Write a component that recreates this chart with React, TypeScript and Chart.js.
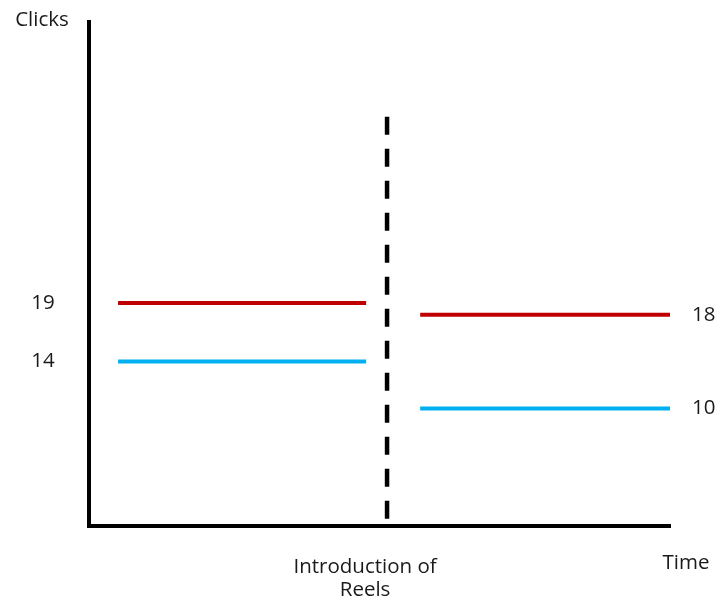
import React, { useEffect, useRef } from "react";
import { Chart, registerables } from "chart.js";

Chart.register(...registerables);

// ---- data ----
const periods = ["Before Reels", "After Reels"];
const periodStart = [5, 57];
const periodEnd = [47.7, 100];
const redClicks = [19, 18];
const blueClicks = [14, 10];
const introTime = [51.3];
const introSpan = [34.9, 0.4];
const yTitle = "Clicks";
const xTitle = "Time";
const introLabel = ["Introduction of", "Reels"];

const RED = "#C00000";
const BLUE = "#00B0F0";
const FONT = "'Open Sans', sans-serif";

const labelPlugin = {
  id: "labels",
  afterDraw(chart: any) {
    const { ctx, chartArea, scales } = chart;
    const y = scales.y;
    const x = scales.x;
    ctx.save();
    ctx.fillStyle = "#1a1a1a";
    ctx.font = `20.5px ${FONT}`;
    ctx.textBaseline = "middle";
    // value labels
    ctx.textAlign = "center";
    [redClicks[0], blueClicks[0]].forEach((v) => {
      ctx.fillText(String(v), chartArea.left - 46, y.getPixelForValue(v));
    });
    ctx.textAlign = "left";
    [redClicks[1], blueClicks[1]].forEach((v) => {
      ctx.fillText(String(v), chartArea.right + 22, y.getPixelForValue(v));
    });
    // axis titles
    ctx.textAlign = "center";
    ctx.fillText(yTitle, chartArea.left - 47, chartArea.top - 2);
    ctx.fillText(xTitle, chartArea.right + 16, chartArea.bottom + 38);
    const ix = x.getPixelForValue(introTime[0]) - 22;
    introLabel.forEach((t, i) => {
      ctx.fillText(t, ix, chartArea.bottom + 42 + i * 23);
    });
    ctx.restore();
  },
};

export default function App() {
  const ref = useRef<HTMLCanvasElement | null>(null);
  useEffect(() => {
    if (!ref.current) return;
    const seg = (vals: number[], color: string) =>
      periods.map((p, i) => ({
        label: `${p} ${color}`,
        data: [
          { x: periodStart[i], y: vals[i] },
          { x: periodEnd[i], y: vals[i] },
        ],
        borderColor: color,
        borderWidth: 4,
        pointRadius: 0,
        showLine: true,
        borderCapStyle: "butt" as const,
      }));
    const chart = new Chart(ref.current, {
      type: "scatter",
      data: {
        datasets: [
          ...seg(redClicks, RED),
          ...seg(blueClicks, BLUE),
          {
            label: "Introduction of Reels",
            data: introSpan.map((v) => ({ x: introTime[0], y: v })),
            borderColor: "#000",
            borderWidth: 4.5,
            borderDash: [18, 14],
            pointRadius: 0,
            showLine: true,
            borderCapStyle: "butt" as const,
          },
        ],
      },
      options: {
        responsive: true,
        maintainAspectRatio: false,
        animation: false,
        layout: { padding: { left: 89, top: 22, right: 48, bottom: 75.5 } },
        plugins: { legend: { display: false }, tooltip: { enabled: false } },
        scales: {
          x: {
            type: "linear",
            min: 0,
            max: 100,
            ticks: { display: false },
            grid: { display: false, drawTicks: false },
            border: { display: true, color: "#000", width: 4 },
          },
          y: {
            type: "linear",
            min: 0,
            max: 43,
            ticks: { display: false },
            grid: { display: false, drawTicks: false },
            border: { display: true, color: "#000", width: 4 },
          },
        },
      },
      plugins: [labelPlugin],
    });
    return () => chart.destroy();
  }, []);
  return (
    <div style={{ position: "fixed", left: 0, top: 0, width: 718, height: 601, background: "#fff" }}>
      <canvas ref={ref} />
    </div>
  );
}
